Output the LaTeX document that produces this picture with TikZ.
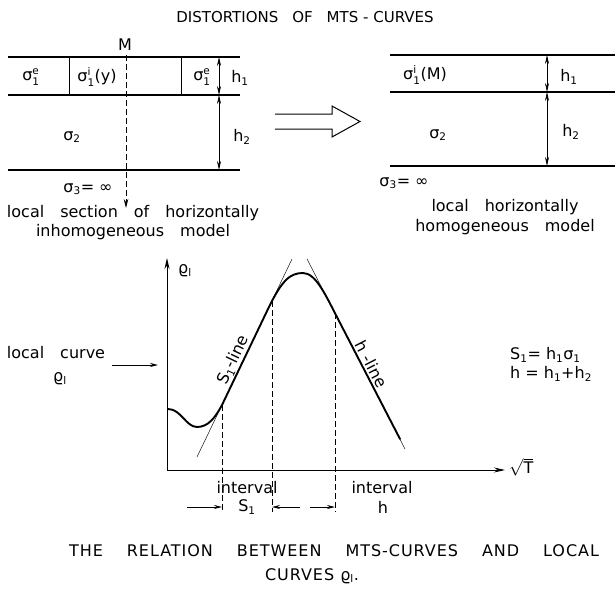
\documentclass[tikz,border=0pt]{standalone}
\usepackage{fontspec}
\setmainfont{DejaVu Sans}
\newfontfamily\capfont[LetterSpace=6]{DejaVu Sans}
\usetikzlibrary{arrows.meta}
\newcommand\subfs{\fontsize{10.5}{10.5}\selectfont}
\newcommand\lo[1]{$_{\mbox{\subfs #1}}$}
\newcommand\sgm[2]{$\mbox{σ}^{\mbox{\subfs #1}}_{\mbox{\subfs #2}}$}
\newcommand\sgsub[1]{$\mbox{σ}_{\mbox{\subfs #1}}$}
\newcommand\wsp{\hspace{16pt}}
\newcommand\csp{\hspace{24pt}}
\tikzset{
  lay/.style={line width=1.2pt},
  sep/.style={line width=0.9pt},
  txt/.style={font=\fontsize{16}{18}\selectfont, inner sep=0pt},
  ttl/.style={font=\fontsize{15}{18}\selectfont, inner sep=0pt},
  captxt/.style={font=\fontsize{16}{18}\selectfont\capfont, inner sep=0pt},
  dim/.style={line width=0.7pt, {Stealth[length=9pt,width=4pt]}-{Stealth[length=9pt,width=4pt]}},
  dashv/.style={line width=0.7pt, dash pattern=on 6pt off 3pt},
  dasharr/.style={line width=0.8pt, dash pattern=on 6pt off 3pt, -{Stealth[length=9pt,width=4.5pt]}},
  axis/.style={line width=1pt, -{Stealth[length=11pt,width=5pt]}},
  tang/.style={line width=0.45pt},
  curve/.style={line width=1.9pt},
  small arr/.style={line width=0.8pt, -{Stealth[length=8pt,width=4pt]}},
}
\begin{document}
\begin{tikzpicture}[x=1pt,y=-1pt]
\useasboundingbox (0,0) rectangle (615,597);
% title
\node[ttl] (title) at (305,17) {DISTORTIONS\hspace{14pt}OF\hspace{14pt}MTS - CURVES};

% ---------- left model ----------
\coordinate (la1) at (8,57);  \coordinate (lb1) at (240,57);
\coordinate (la2) at (8,95);  \coordinate (lb2) at (240,95);
\coordinate (la3) at (8,170); \coordinate (lb3) at (240,170);
\draw[lay] (la1) -- (lb1);
\draw[lay] (la2) -- (lb2);
\draw[lay] (la3) -- (lb3);
\coordinate (v1t) at (69,57);  \coordinate (v1b) at (69,95);
\coordinate (v2t) at (181,57); \coordinate (v2b) at (181,95);
\draw[sep] (v1t) -- (v1b);
\draw[sep] (v2t) -- (v2b);
\node[txt] (M) at (125,45) {M};
\coordinate (Mt) at (126,55); \coordinate (Mb) at (126,208);
\draw[dasharr] (Mt) -- (Mb);
\node[txt] (s1eL) at (31,77) {\sgm{e}{1}};
\node[txt] (s1iy) at (97,77) {\sgm{i}{1}(y)};
\node[txt] (s1eR) at (202,77) {\sgm{e}{1}};
\coordinate (hl1) at (219,57); \coordinate (hl2) at (219,95); \coordinate (hl3) at (219,170);
\draw[dim] (hl1) -- (hl2);
\draw[dim] (hl2) -- (hl3);
\node[txt] (h1L) at (240,78) {h\lo{1}};
\node[txt] (h2L) at (242,137) {h\lo{2}};
\node[txt] (s2L) at (72,137) {\sgsub{2}};
\node[txt] (s3L) at (88,189) {\sgsub{3}= ∞};
\node[txt] (capL1) at (133,213) {local\wsp section\wsp of\wsp horizontally};
\node[txt] (capL2) at (133,232) {inhomogeneous\wsp model};

% ---------- block arrow ----------
\coordinate (ba1) at (275,114); \coordinate (ba2) at (332,114); \coordinate (ba3) at (332,106);
\coordinate (ba4) at (360,121.5); \coordinate (ba5) at (332,137); \coordinate (ba6) at (332,129);
\coordinate (ba7) at (275,129);
\draw[line width=1pt, line join=miter] (ba1) -- (ba2) -- (ba3) -- (ba4) -- (ba5) -- (ba6) -- (ba7);

% ---------- right model ----------
\coordinate (ra1) at (390,55);  \coordinate (rb1) at (615,55);
\coordinate (ra2) at (390,92);  \coordinate (rb2) at (615,92);
\coordinate (ra3) at (390,166); \coordinate (rb3) at (615,166);
\draw[lay] (ra1) -- (rb1);
\draw[lay] (ra2) -- (rb2);
\draw[lay] (ra3) -- (rb3);
\node[txt] (s1iM) at (425,75) {\sgm{i}{1}(M)};
\coordinate (hr1) at (547,55); \coordinate (hr2) at (547,92); \coordinate (hr3) at (547,166);
\draw[dim] (hr1) -- (hr2);
\draw[dim] (hr2) -- (hr3);
\node[txt] (h1R) at (569,77) {h\lo{1}};
\node[txt] (h2R) at (571,132) {h\lo{2}};
\node[txt] (s2R) at (438,135) {\sgsub{2}};
\node[txt] (s3R) at (404,183) {\sgsub{3}= ∞};
\node[txt] (capR1) at (505,207) {local\wsp horizontally};
\node[txt] (capR2) at (505,227) {homogeneous\wsp model};

% ---------- graph ----------
\coordinate (O) at (167,470);
\coordinate (Ytop) at (167,258);
\coordinate (Xend) at (505,470);
\draw[axis] (O) -- (Ytop);
\draw[axis] (O) -- (Xend);
\node[txt] (rhoY) at (185,271) {ϱ\lo{l}};
\node[txt, anchor=west] (sqT) at (509,467) {$\sqrt{\mbox{T}}$};

\node[txt] (lc1) at (56,353) {local\wsp curve};
\node[txt] (lc2) at (60,379) {ϱ\lo{l}};
\coordinate (lca) at (112,365); \coordinate (lcb) at (158,365);
\draw[small arr] (lca) -- (lcb);

% tangents
\coordinate (t1a) at (197,457); \coordinate (t1b) at (292,259);
\coordinate (t2a) at (307,259); \coordinate (t2b) at (405,449);
\draw[tang] (t1a) -- (t1b);
\draw[tang] (t2a) -- (t2b);

% curve
\coordinate (c0) at (168,409);
\coordinate (c1) at (197,427);
\coordinate (c2) at (222,405);
\coordinate (c3) at (268,309);
\coordinate (pk) at (303,273);
\coordinate (c4) at (338,319);
\coordinate (c5) at (400,439);
\draw[curve, line cap=round]
  (c0) .. controls (181,409) and (186,427) .. (c1)
       .. controls (208,427) and (215,418) .. (c2)
       -- (c3)
       .. controls (282,280) and (290,273) .. (pk)
       .. controls (316,273) and (326,296) .. (c4)
       -- (c5);

% dashed verticals
\coordinate (d1t) at (222,405); \coordinate (d1b) at (222,512);
\coordinate (d2t) at (272,301); \coordinate (d2b) at (272,512);
\coordinate (d3t) at (335,313); \coordinate (d3b) at (335,512);
\draw[dashv] (d1t) -- (d1b);
\draw[dashv] (d2t) -- (d2b);
\draw[dashv] (d3t) -- (d3b);

% line labels
\coordinate (s1pos) at (242,364);
\node[txt, rotate=64.4, anchor=south, inner sep=2pt] (s1line) at (s1pos) {S\lo{1}-line};
\coordinate (hpos) at (364,368);
\node[txt, rotate=-62.7, anchor=south, inner sep=2pt] (hline) at (hpos) {h -line};

\node[txt, anchor=west] (eq1) at (510,355) {S\lo{1}= h\lo{1}σ\lo{1}};
\node[txt, anchor=west] (eq2) at (510,374) {h = h\lo{1}+h\lo{2}};

% intervals
\node[txt] (int1) at (247,488) {interval};
\node[txt] (S1) at (247,507) {S\lo{1}};
\node[txt] (int2) at (382,488) {interval};
\node[txt] (hh) at (383,507) {h};
\coordinate (a1s) at (187,507); \coordinate (a1e) at (222,507);
\coordinate (a2s) at (300,507); \coordinate (a2e) at (272,507);
\coordinate (a3s) at (310,507); \coordinate (a3e) at (335,507);
\draw[small arr] (a1s) -- (a1e);
\draw[small arr] (a2s) -- (a2e);
\draw[small arr] (a3s) -- (a3e);

% caption
\node[captxt] (cap1) at (334,551) {THE\csp RELATION\csp BETWEEN\csp MTS-CURVES\csp AND\csp LOCAL};
\node[captxt] (cap2) at (312,576) {CURVES ϱ\lo{l}.};
\end{tikzpicture}
\end{document}
